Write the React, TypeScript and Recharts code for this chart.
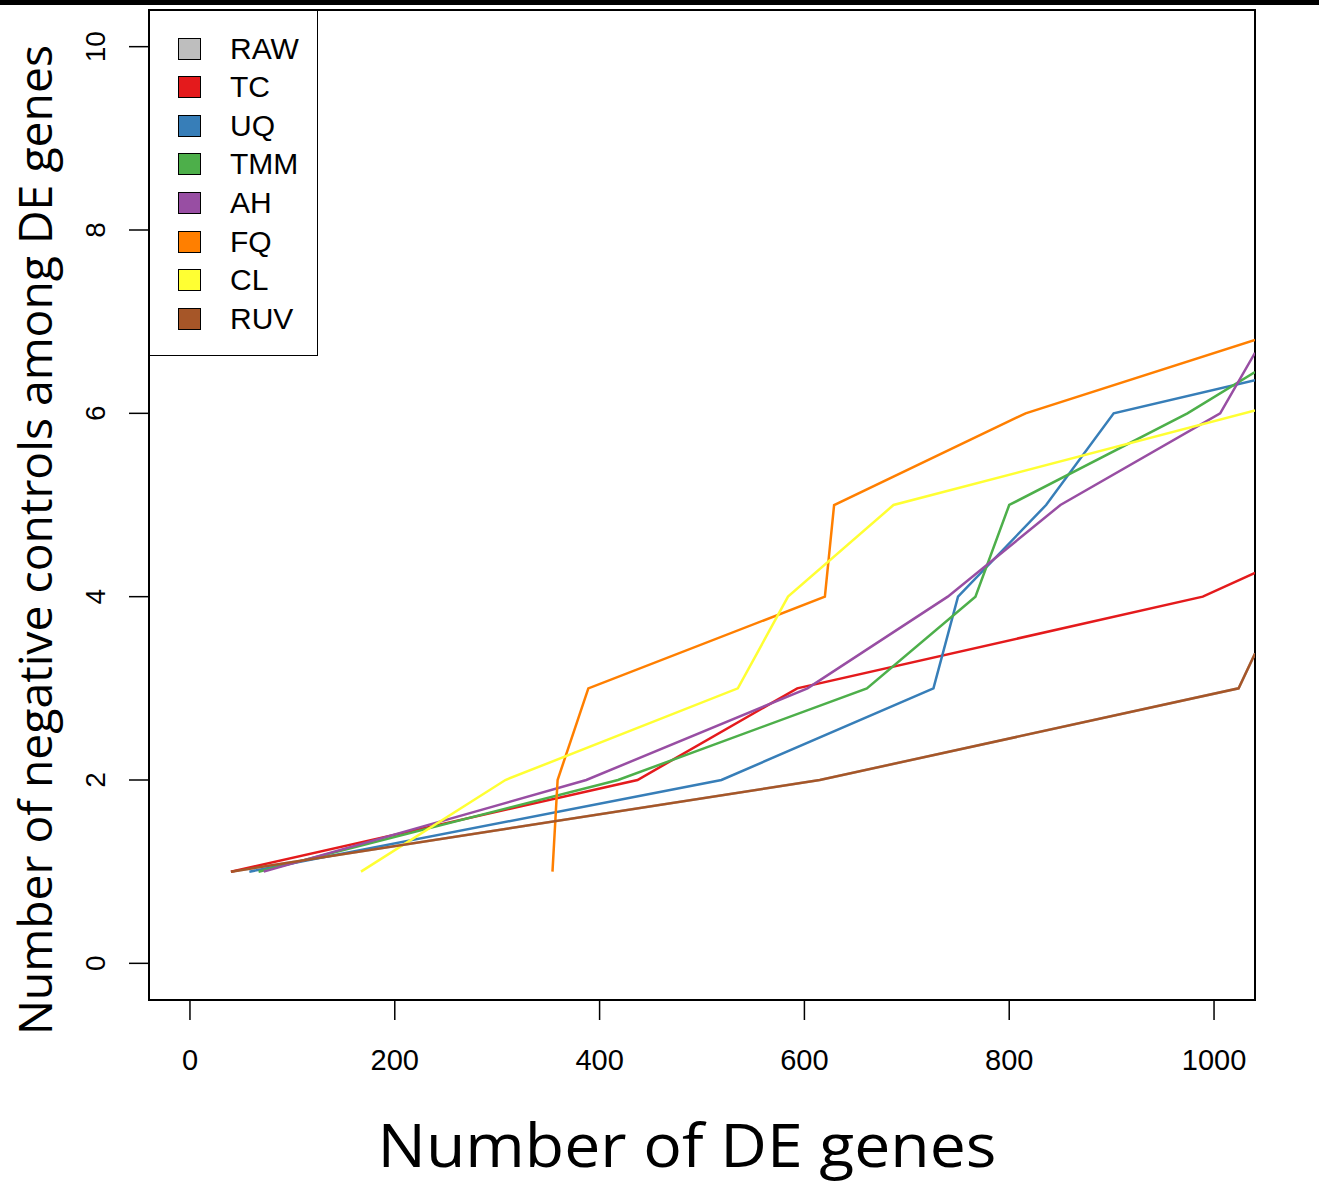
import React from 'react';
import { LineChart, Line, XAxis, YAxis, ReferenceArea, Legend } from 'recharts';

const xTicks = [0, 200, 400, 600, 800, 1000];
const yTicks = [0, 2, 4, 6, 8, 10];

const methods = ['RAW', 'TC', 'UQ', 'TMM', 'AH', 'FQ', 'CL', 'RUV'];
const colors = ['#BEBEBE', '#E41A1C', '#377EB8', '#4DAF4A', '#984EA3', '#FF7F00', '#FFFF33', '#A65628'];

// x = number of DE genes, y = negative controls among them
const rawX = [40, 615, 1024, 1040];
const rawY = [1, 2, 3, 3.38];
const tcX = [40, 437, 593, 989, 1040];
const tcY = [1, 2, 3, 4, 4.26];
const uqX = [58, 519, 726, 750, 836, 902, 1040];
const uqY = [1, 2, 3, 4, 5, 6, 6.36];
const tmmX = [67, 418, 661, 767, 800, 974, 1040];
const tmmY = [1, 2, 3, 4, 5, 6, 6.45];
const ahX = [72, 387, 603, 740, 850, 1006, 1040];
const ahY = [1, 2, 3, 4, 5, 6, 6.66];
const fqX = [354, 359, 389, 620, 629, 816, 1040];
const fqY = [1, 2, 3, 4, 5, 6, 6.8];
const clX = [167, 308, 535, 584, 687, 1040];
const clY = [1, 2, 3, 4, 5, 6.03];
const ruvX = [40, 615, 1024, 1040];
const ruvY = [1, 2, 3, 3.38];

const toPoints = (xs: number[], ys: number[]) => xs.map((x, i) => ({ x, y: ys[i] }));

const series = [
  toPoints(rawX, rawY),
  toPoints(tcX, tcY),
  toPoints(uqX, uqY),
  toPoints(tmmX, tmmY),
  toPoints(ahX, ahY),
  toPoints(fqX, fqY),
  toPoints(clX, clY),
  toPoints(ruvX, ruvY),
];

const tickFont = '"Liberation Sans", Arial, sans-serif';
const titleFont = '"Open Sans", "Noto Sans", sans-serif';

const XTick = (props: any) => {
  const { x, payload } = props;
  return (
    <text x={x} y={1070} textAnchor="middle" fontSize={29} fontFamily={tickFont} fill="#000">
      {payload.value}
    </text>
  );
};

const YTick = (props: any) => {
  const { y, payload } = props;
  return (
    <text
      transform={`translate(105,${y}) rotate(-90)`}
      textAnchor="middle"
      fontSize={28}
      fontFamily={tickFont}
      fill="#000"
    >
      {payload.value}
    </text>
  );
};

const LegendBox = () => (
  <div
    style={{
      boxSizing: 'border-box',
      width: 169,
      height: 346,
      border: '1.5px solid #000',
      background: '#fff',
      position: 'relative',
    }}
  >
    {methods.map((m, i) => (
      <div key={m} style={{ position: 'absolute', left: 0, top: 37.5 + i * 38.6 - 20, height: 40, width: 160 }}>
        <div
          style={{
            position: 'absolute',
            left: 28,
            top: 9,
            width: 23,
            height: 22,
            boxSizing: 'border-box',
            border: '1.5px solid #000',
            background: colors[i],
          }}
        />
        <div
          style={{
            position: 'absolute',
            left: 80,
            top: 0,
            lineHeight: '40px',
            fontSize: 30,
            fontFamily: tickFont,
            color: '#000',
          }}
        >
          {m}
        </div>
      </div>
    ))}
  </div>
);

export default function App() {
  return (
    <div style={{ position: 'absolute', left: 0, top: 0, width: 1319, height: 1186, background: '#fff' }}>
      <div style={{ position: 'absolute', left: 0, top: 0, width: 1319, height: 5, background: '#000' }} />
      <LineChart width={1319} height={1186} margin={{ top: 10, right: 64, bottom: 0, left: 0 }}>
        <XAxis
          type="number"
          dataKey="x"
          domain={[-40, 1040]}
          ticks={xTicks}
          allowDataOverflow
          height={186}
          tickSize={20}
          axisLine={false}
          tickLine={{ stroke: '#000', strokeWidth: 1.5 }}
          tick={<XTick />}
          interval={0}
          label={{
            content: () => (
              <text
                x={687}
                y={1167}
                textAnchor="middle"
                fontSize={60}
                fontFamily={titleFont}
                textLength={619}
                lengthAdjust="spacingAndGlyphs"
                fill="#000"
              >
                Number of DE genes
              </text>
            ),
          }}
        />
        <YAxis
          type="number"
          dataKey="y"
          domain={[-0.4, 10.4]}
          ticks={yTicks}
          allowDataOverflow
          width={149}
          tickSize={20}
          axisLine={false}
          tickLine={{ stroke: '#000', strokeWidth: 1.5 }}
          tick={<YTick />}
          interval={0}
          label={{
            content: () => (
              <text
                transform="translate(52,540) rotate(-90)"
                textAnchor="middle"
                fontSize={46}
                fontFamily={titleFont}
                textLength={990}
                lengthAdjust="spacingAndGlyphs"
                fill="#000"
              >
                Number of negative controls among DE genes
              </text>
            ),
          }}
        />
        {series.map((pts, i) => (
          <Line
            key={methods[i]}
            data={pts}
            dataKey="y"
            name={methods[i]}
            type="linear"
            stroke={colors[i]}
            strokeWidth={2.5}
            dot={false}
            activeDot={false}
            isAnimationActive={false}
          />
        ))}
        <ReferenceArea x1={-40} x2={1040} y1={-0.4} y2={10.4} fill="none" stroke="#000" strokeWidth={2} />
        <Legend
          layout="vertical"
          align="center"
          verticalAlign="middle"
          content={<LegendBox />}
          wrapperStyle={{ left: 149, top: 10, width: 169, height: 346 }}
        />
      </LineChart>
    </div>
  );
}
